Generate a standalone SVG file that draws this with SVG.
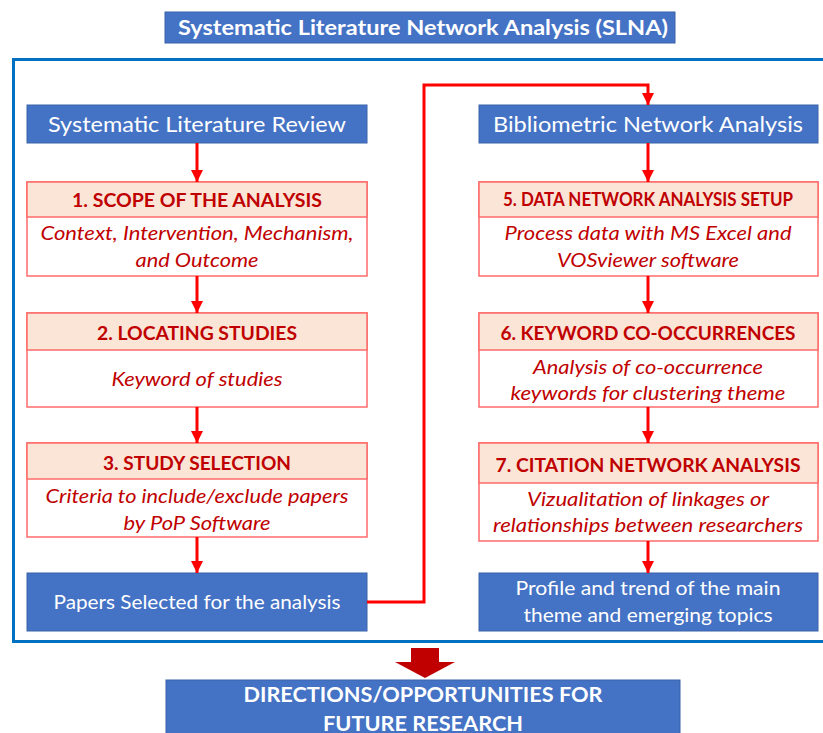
<svg xmlns="http://www.w3.org/2000/svg" width="823" height="733" viewBox="0 0 823 733">
  <style>
    .blue { fill: #4472C4; stroke: #3A62AA; stroke-width: 1; }
    .head { fill: #FBE5D6; stroke: #FF6B6B; stroke-width: 1.5; }
    .body { fill: #FFFFFF; stroke: #FF6B6B; stroke-width: 1.5; }
    .t { font-family: Lato, "Liberation Sans", sans-serif; text-anchor: middle; }
    .white { fill: #FFFFFF; }
    .hd { fill: #C00000; font-weight: bold; font-size: 19px; }
    .it { fill: #C00000; font-style: italic; font-size: 19px; }
    .conn { stroke: #FF0000; stroke-width: 3; fill: none; }
  </style>
  <defs>
    <marker id="ah" markerUnits="userSpaceOnUse" markerWidth="12" markerHeight="12" refX="12" refY="6" orient="auto">
      <path d="M0,0 L12,6 L0,12 Z" fill="#FF0000"/>
    </marker>
  </defs>

  <rect width="823" height="733" fill="#FFFFFF"/>

  <!-- title -->
  <g id="title">
    <rect class="blue" x="165" y="12" width="510" height="31"/>
    <text class="t white" x="423" y="35" font-size="21" font-weight="bold" textLength="490" lengthAdjust="spacingAndGlyphs">Systematic Literature Network Analysis (SLNA)</text>
  </g>

  <!-- outer frame -->
  <rect id="frame" x="13.5" y="59.5" width="812" height="582" fill="none" stroke="#0070C0" stroke-width="3"/>

  <!-- left column -->
  <g id="slr">
    <rect class="blue" x="27" y="105" width="340" height="38"/>
    <text class="t white" x="197" y="132" font-size="21" textLength="298" lengthAdjust="spacingAndGlyphs">Systematic Literature Review</text>
  </g>
  <g id="step1">
    <rect class="body" x="27" y="182" width="340" height="94"/>
    <rect class="head" x="27" y="182" width="340" height="35"/>
    <text class="t hd" x="197" y="207" textLength="250" lengthAdjust="spacingAndGlyphs">1. SCOPE OF THE ANALYSIS</text>
    <text class="t it" x="197" y="240" textLength="313" lengthAdjust="spacingAndGlyphs">Context, Intervention, Mechanism,</text>
    <text class="t it" x="197" y="267" textLength="123" lengthAdjust="spacingAndGlyphs">and Outcome</text>
  </g>
  <g id="step2">
    <rect class="body" x="27" y="313" width="340" height="94"/>
    <rect class="head" x="27" y="313" width="340" height="37"/>
    <text class="t hd" x="197" y="340" textLength="200" lengthAdjust="spacingAndGlyphs">2. LOCATING STUDIES</text>
    <text class="t it" x="197" y="386" textLength="171" lengthAdjust="spacingAndGlyphs">Keyword of studies</text>
  </g>
  <g id="step3">
    <rect class="body" x="27" y="443" width="340" height="94"/>
    <rect class="head" x="27" y="443" width="340" height="36"/>
    <text class="t hd" x="197" y="470" textLength="188" lengthAdjust="spacingAndGlyphs">3. STUDY SELECTION</text>
    <text class="t it" x="197" y="503" textLength="303" lengthAdjust="spacingAndGlyphs">Criteria to include/exclude papers</text>
    <text class="t it" x="197" y="530" textLength="147" lengthAdjust="spacingAndGlyphs">by PoP Software</text>
  </g>
  <g id="papers">
    <rect class="blue" x="27" y="573" width="340" height="58"/>
    <text class="t white" x="197" y="609" font-size="19" textLength="287" lengthAdjust="spacingAndGlyphs">Papers Selected for the analysis</text>
  </g>

  <!-- right column -->
  <g id="bna">
    <rect class="blue" x="479" y="105" width="339" height="38"/>
    <text class="t white" x="648" y="132" font-size="21" textLength="310" lengthAdjust="spacingAndGlyphs">Bibliometric Network Analysis</text>
  </g>
  <g id="step5">
    <rect class="body" x="479" y="182" width="339" height="94"/>
    <rect class="head" x="479" y="182" width="339" height="35"/>
    <text class="t hd" x="648" y="206" font-size="17" textLength="290" lengthAdjust="spacingAndGlyphs">5. DATA NETWORK ANALYSIS SETUP</text>
    <text class="t it" x="648" y="240" textLength="287" lengthAdjust="spacingAndGlyphs">Process data with MS Excel and</text>
    <text class="t it" x="648" y="267" textLength="182" lengthAdjust="spacingAndGlyphs">VOSviewer software</text>
  </g>
  <g id="step6">
    <rect class="body" x="479" y="313" width="339" height="94"/>
    <rect class="head" x="479" y="313" width="339" height="37"/>
    <text class="t hd" x="648" y="340" textLength="295" lengthAdjust="spacingAndGlyphs">6. KEYWORD CO-OCCURRENCES</text>
    <text class="t it" x="648" y="374" textLength="230" lengthAdjust="spacingAndGlyphs">Analysis of co-occurrence</text>
    <text class="t it" x="648" y="400" textLength="275" lengthAdjust="spacingAndGlyphs">keywords for clustering theme</text>
  </g>
  <g id="step7">
    <rect class="body" x="479" y="443" width="339" height="98"/>
    <rect class="head" x="479" y="443" width="339" height="40"/>
    <text class="t hd" x="648" y="472" textLength="305" lengthAdjust="spacingAndGlyphs">7. CITATION NETWORK ANALYSIS</text>
    <text class="t it" x="648" y="506" textLength="242" lengthAdjust="spacingAndGlyphs">Vizualitation of linkages or</text>
    <text class="t it" x="648" y="532" textLength="310" lengthAdjust="spacingAndGlyphs">relationships between researchers</text>
  </g>
  <g id="profile">
    <rect class="blue" x="479" y="573" width="339" height="58"/>
    <text class="t white" x="648" y="595" font-size="19" textLength="265" lengthAdjust="spacingAndGlyphs">Profile and trend of the main</text>
    <text class="t white" x="648" y="622" font-size="19" textLength="249" lengthAdjust="spacingAndGlyphs">theme and emerging topics</text>
  </g>

  <!-- outcome -->
  <g id="future">
    <rect class="blue" x="166" y="680" width="514" height="60"/>
    <text class="t white" x="423" y="702" font-size="21" font-weight="bold" textLength="359" lengthAdjust="spacingAndGlyphs">DIRECTIONS/OPPORTUNITIES FOR</text>
    <text class="t white" x="423" y="731" font-size="21" font-weight="bold" textLength="200" lengthAdjust="spacingAndGlyphs">FUTURE RESEARCH</text>
  </g>

  <!-- connectors -->
  <g id="connectors">
    <line class="conn" x1="197" y1="143" x2="197" y2="182" marker-end="url(#ah)"/>
    <line class="conn" x1="197" y1="276" x2="197" y2="313" marker-end="url(#ah)"/>
    <line class="conn" x1="197" y1="407" x2="197" y2="443" marker-end="url(#ah)"/>
    <line class="conn" x1="197" y1="537" x2="197" y2="573" marker-end="url(#ah)"/>
    <line class="conn" x1="648" y1="143" x2="648" y2="182" marker-end="url(#ah)"/>
    <line class="conn" x1="648" y1="276" x2="648" y2="313" marker-end="url(#ah)"/>
    <line class="conn" x1="648" y1="407" x2="648" y2="443" marker-end="url(#ah)"/>
    <line class="conn" x1="648" y1="541" x2="648" y2="573" marker-end="url(#ah)"/>
    <polyline class="conn" points="367,602 424,602 424,85 648,85 648,105" marker-end="url(#ah)"/>
    <path d="M411,648 L439,648 L439,662 L455,662 L425,678 L395,662 L411,662 Z" fill="#C00000"/>
  </g>
</svg>
